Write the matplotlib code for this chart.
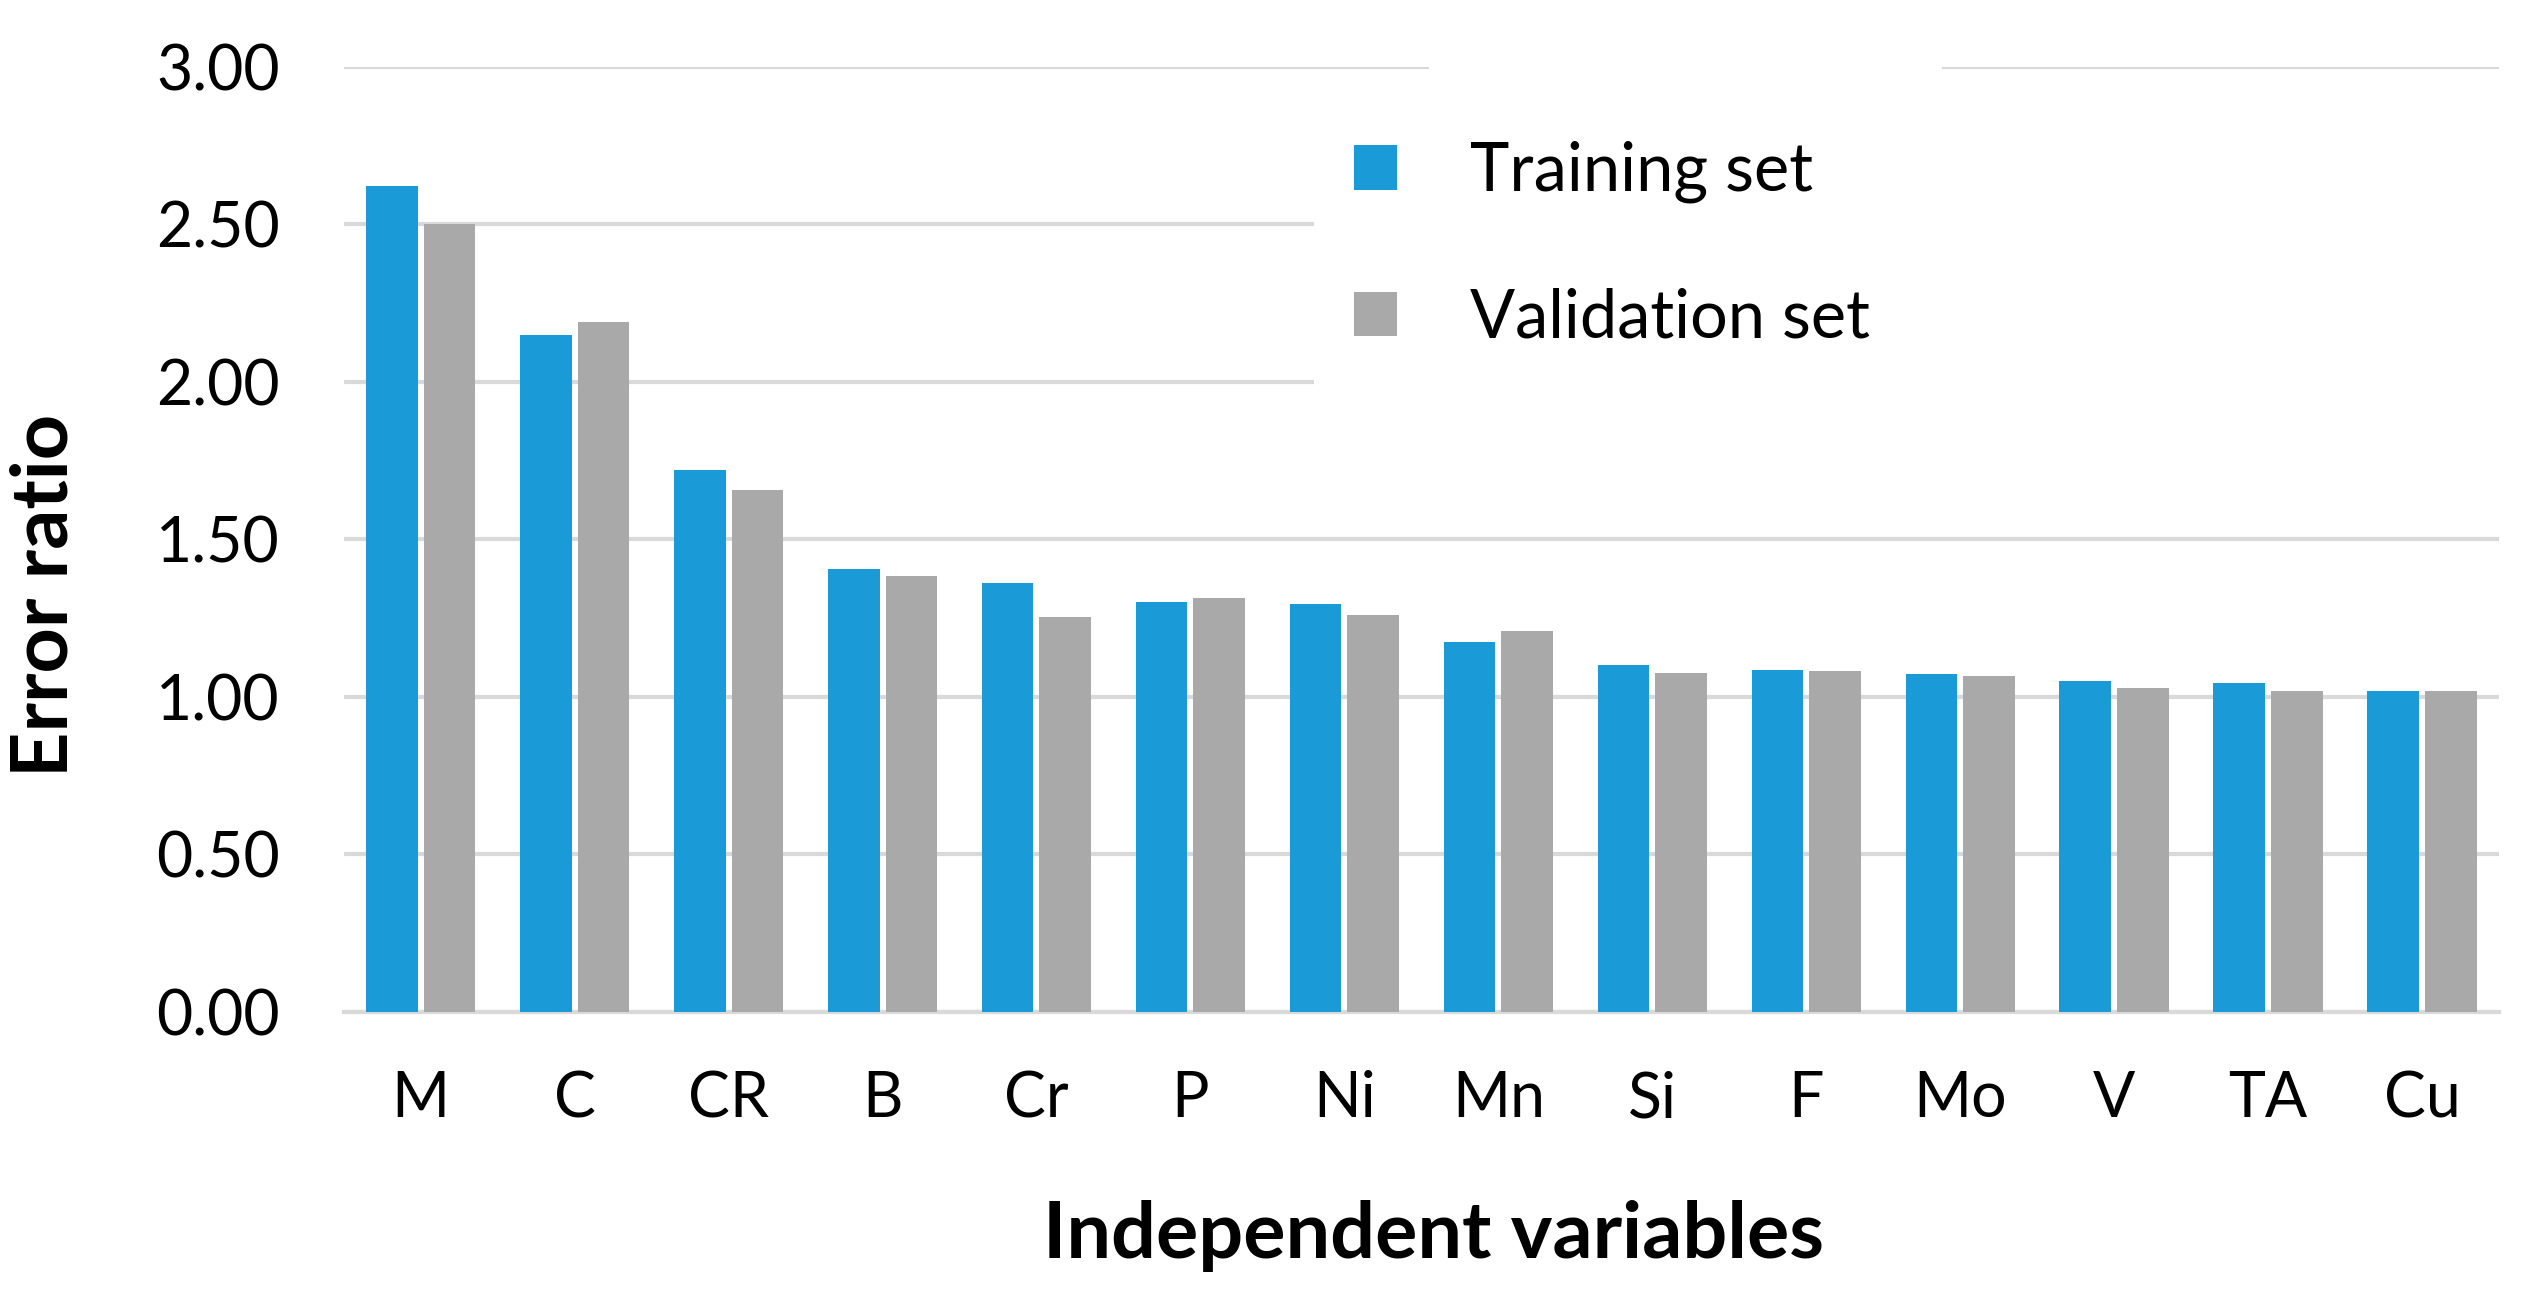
import matplotlib
matplotlib.use("Agg")
import matplotlib.pyplot as plt
import numpy as np
from matplotlib.patches import Rectangle

# Data
variables = ["M", "C", "CR", "B", "Cr", "P", "Ni", "Mn", "Si", "F", "Mo", "V", "TA", "Cu"]
training = [2.62, 2.15, 1.72, 1.405, 1.36, 1.30, 1.295, 1.175, 1.10, 1.085, 1.072, 1.05, 1.045, 1.018]
validation = [2.50, 2.19, 1.656, 1.383, 1.254, 1.313, 1.26, 1.208, 1.075, 1.083, 1.065, 1.027, 1.018, 1.018]

blue = "#1A9BD7"
grey = "#A9A9A9"
grid_c = "#D9D9D9"

plt.rcParams['font.family'] = ['Lato', 'DejaVu Sans']

fig = plt.figure(figsize=(25.46, 12.95), dpi=100)
ax = fig.add_axes([0.135, 0.2185, 0.8465, 0.73])

x = np.arange(len(variables))
w = 0.335
b1 = ax.bar(x - 0.187, training, w, color=blue, zorder=3, label="Training set")
b2 = ax.bar(x + 0.187, validation, w, color=grey, zorder=3, label="Validation set")

ax.set_xlim(-0.5, len(variables) - 0.5)
ax.set_ylim(0, 3.0)
ax.set_yticks(np.arange(0, 3.01, 0.5))
ax.set_yticklabels([f"{v:.2f}" for v in np.arange(0, 3.01, 0.5)])
ax.set_xticks(x)
ax.set_xticklabels(variables)

ax.set_axisbelow(True)
ax.yaxis.grid(True, color=grid_c, linewidth=3)
for s in ["top", "right", "left"]:
    ax.spines[s].set_visible(False)
ax.spines["bottom"].set_color(grid_c)
ax.spines["bottom"].set_linewidth(3)
ax.tick_params(axis="both", length=0, labelsize=45)
ax.tick_params(axis="y", pad=46)
ax.tick_params(axis="x", pad=42)

# white area behind the legend (hides the grid lines)
ax.add_patch(Rectangle((0.450, 0.621), 0.6, 0.339, transform=ax.transAxes,
                       facecolor="white", edgecolor="none", zorder=1, clip_on=False))
ax.add_patch(Rectangle((0.5035, 0.96), 0.238, 0.06, transform=ax.transAxes,
                       facecolor="white", edgecolor="none", zorder=1, clip_on=False))

fig.text(0.018, 0.54, "Error ratio", fontsize=57, fontweight="bold",
         rotation=90, ha="center", va="center")
fig.text(0.563, 0.0286, "Independent variables", fontsize=57, fontweight="bold",
         ha="center", va="baseline")

ax.legend(handles=[b1, b2], loc="upper left", bbox_to_anchor=(0.469, 0.9215),
          frameon=False, fontsize=48, handlelength=0.64, handleheight=0.64,
          handletextpad=1.1, labelspacing=1.26, borderpad=0, borderaxespad=0)

fig.savefig("out.png", dpi=100)
